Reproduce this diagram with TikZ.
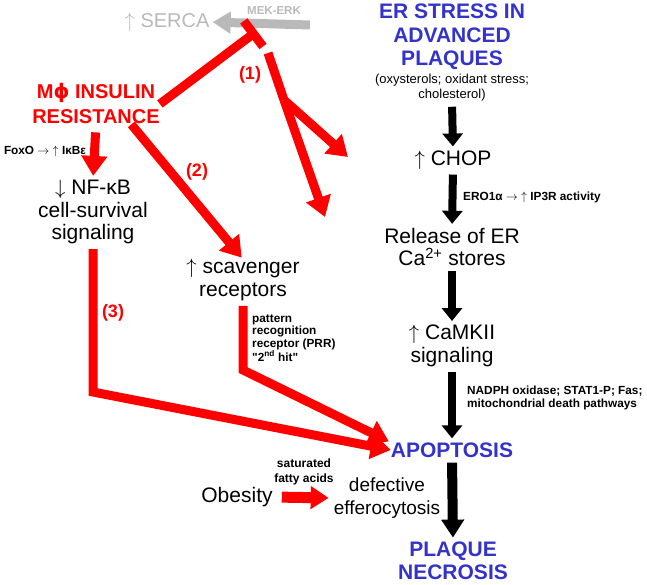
\documentclass[tikz,border=0pt]{standalone}
\usepackage{fontspec}
\setmainfont{Liberation Sans}
\newfontfamily\dejavu{DejaVu Sans}
\usetikzlibrary{arrows.meta}
\definecolor{plaqueblue}{RGB}{51,51,204}
\definecolor{msred}{RGB}{255,0,0}
\definecolor{sercagray}{RGB}{185,185,185}

\begin{document}
\begin{tikzpicture}[x=1pt,y=-1pt,
  txt/.style={inner sep=0pt,align=center,font=\fontsize{21}{22.5}\selectfont},
  hd/.style={inner sep=0pt,align=center,text=plaqueblue,font=\fontsize{21}{23.5}\selectfont\bfseries},
  redhd/.style={inner sep=0pt,align=center,text=msred,font=\fontsize{20}{25}\selectfont\bfseries},
  note/.style={inner sep=0pt,align=left,font=\fontsize{11.8}{12.4}\selectfont\bfseries},
  num/.style={inner sep=0pt,text=msred,font=\fontsize{18}{18}\selectfont\bfseries},
  blk/.style={line width=8pt,-{Triangle[length=13pt,width=20pt]},shorten <=5pt,shorten >=4pt},
  rline/.style={msred,line width=9pt},
  rarrow/.style={rline,-{Triangle[length=20pt,width=25pt]}}]
  \useasboundingbox (0,0) rectangle (647,585);

  \coordinate (bar) at (257,31);
  \coordinate (s1) at (268,53);
  \coordinate (b1) at (284,100);
  \coordinate (e1a) at (348,157);
  \coordinate (e1b) at (325,217);
  \coordinate (k3) at (93,392);
  \coordinate (k2) at (243,370);
  \coordinate (mek) at (310,25);

  % left side
  \node[txt,text=sercagray,font=\fontsize{20}{20}\selectfont] (serca) at (167,22) {$\uparrow$ SERCA};
  \node[inner sep=0pt,text=sercagray,font=\fontsize{11.5}{11.5}\selectfont\bfseries] (mektxt) at (274,11) {MEK-ERK};
  \node[redhd] (ins) at (96,104) {M{\dejavu ϕ} INSULIN\\RESISTANCE};
  \node[note] (foxo) at (45,152) {FoxO $\rightarrow$ $\uparrow$ IκBε};
  \node[txt] (nfkb) at (93,212) {$\downarrow$ NF-κB\\cell-survival\\signaling};
  \node[txt] (scav) at (243,280) {$\uparrow$ scavenger\\receptors};
  \node[note,anchor=west] (prr) at (252,338) {pattern\\recognition\\receptor (PRR)\\\textquotedbl 2\textsuperscript{nd} hit\textquotedbl};
  \node[txt] (obes) at (237,497) {Obesity};
  \node[inner sep=0pt,align=center,font=\fontsize{12}{15}\selectfont\bfseries] (sfa) at (304,472) {saturated\\fatty acids};
  \node[txt,font=\fontsize{19}{22.5}\selectfont] (defe) at (387,498) {defective\\efferocytosis};
  \node[num] (l1) at (250,75) {(1)};
  \node[num] (l2) at (197,172) {(2)};
  \node[num] (l3) at (113,313) {(3)};

  % right column
  \node[hd] (ers) at (452,37) {ER STRESS IN\\ADVANCED\\PLAQUES};
  \node[inner sep=0pt,align=center,font=\fontsize{13}{15}\selectfont] (cause) at (452,88) {(oxysterols; oxidant stress;\\cholesterol)};
  \node[txt] (chop) at (453,160) {$\uparrow$ CHOP};
  \node[note,anchor=west] (ero) at (463,197) {ERO1α $\rightarrow$ $\uparrow$ IP3R activity};
  \node[txt] (rel) at (452,247) {Release of ER\\Ca\textsuperscript{2+} stores};
  \node[txt] (camk) at (452,346) {$\uparrow$ CaMKII\\signaling};
  \node[note,anchor=west] (nadph) at (467,398) {NADPH oxidase; STAT1-P; Fas;\\mitochondrial death pathways};
  \node[hd] (apop) at (452,450) {APOPTOSIS};
  \node[hd] (nec) at (453,561) {PLAQUE\\NECROSIS};

  \draw[sercagray,line width=9pt,-{Triangle[length=18pt,width=21pt]},shorten >=3pt] (mek) -- (serca.east);

  \draw[blk] (cause.south) -- (chop.north);
  \draw[blk] (chop.south) -- (rel.north);
  \draw[blk] (rel.south) -- (camk.north);
  \draw[blk] (camk.south) -- (apop.north);
  \draw[blk,line width=10pt,-{Triangle[length=18pt,width=22pt]}] (apop.south) -- (nec.north);

  \draw[rline,-{Bar[width=32pt]}] (ins.east) -- (bar);
  \draw[rline] (s1) -- (b1);
  \draw[rarrow] (b1) -- (e1b);
  \draw[rarrow] (b1) -- (e1a);
  \draw[rarrow,shorten <=8pt,shorten >=4pt] (ins.south) -- (nfkb.north);
  \draw[rarrow,shorten >=2pt] (ins.-30) -- (scav.north);
  \draw[rarrow,shorten <=5pt] (nfkb.south) -- (k3) -- (apop.west);
  \draw[rarrow,shorten <=5pt,shorten >=2pt] (scav.south) -- (k2) -- (apop.north west);
  \draw[rarrow,line width=11pt,-{Triangle[length=18pt,width=22pt]},shorten <=9pt,shorten >=5pt] (obes.east) -- (defe.west);
\end{tikzpicture}
\end{document}
